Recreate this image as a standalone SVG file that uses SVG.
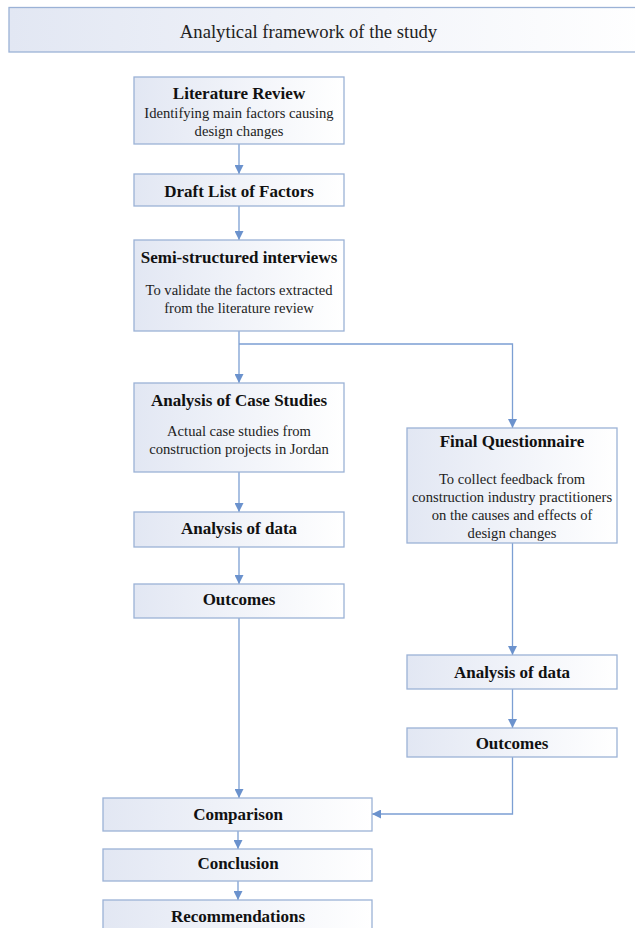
<svg xmlns="http://www.w3.org/2000/svg" width="635" height="928" viewBox="0 0 635 928">
<defs>
<linearGradient id="bg" x1="0" y1="0" x2="1" y2="0">
<stop offset="0" stop-color="#e2e7f3"/>
<stop offset="1" stop-color="#ffffff"/>
</linearGradient>
<marker id="ah" viewBox="0 0 10 10" refX="10" refY="5" markerWidth="9" markerHeight="9" markerUnits="userSpaceOnUse" orient="auto">
<path d="M0,0 L10,5 L0,10 z" fill="#6b92cd"/>
</marker>
<style>
.box{fill:url(#bg);stroke:#9bb2d6;stroke-width:1.3}
.h{font-family:"Liberation Serif","Times New Roman",serif;font-weight:bold;font-size:17px;fill:#111;text-anchor:middle}
.b{font-family:"Liberation Serif","Times New Roman",serif;font-size:14.6px;fill:#222;text-anchor:middle}
.t{font-family:"Liberation Serif","Times New Roman",serif;font-size:18.7px;fill:#222;text-anchor:middle}
.c{fill:none;stroke:#7c9fd3;stroke-width:1.3}
</style>
</defs>
<rect width="635" height="928" fill="#ffffff"/>
<g id="title">
<rect class="box" x="9" y="7.5" width="640" height="44.5"/>
<text class="t" x="308.5" y="37.5">Analytical framework of the study</text>
</g>
<g id="connectors">
<line class="c" x1="239" y1="144" x2="239" y2="174" marker-end="url(#ah)"/>
<line class="c" x1="239" y1="206" x2="239" y2="240" marker-end="url(#ah)"/>
<line class="c" x1="239" y1="331" x2="239" y2="383" marker-end="url(#ah)"/>
<polyline class="c" points="239,344 512.5,344 512.5,428" marker-end="url(#ah)"/>
<line class="c" x1="239" y1="472" x2="239" y2="512" marker-end="url(#ah)"/>
<line class="c" x1="239" y1="547" x2="239" y2="584" marker-end="url(#ah)"/>
<line class="c" x1="239" y1="618" x2="239" y2="798" marker-end="url(#ah)"/>
<line class="c" x1="512.5" y1="543" x2="512.5" y2="655" marker-end="url(#ah)"/>
<line class="c" x1="512.5" y1="689" x2="512.5" y2="728" marker-end="url(#ah)"/>
<polyline class="c" points="512.5,757 512.5,814 372,814" marker-end="url(#ah)"/>
<line class="c" x1="238" y1="831" x2="238" y2="849" marker-end="url(#ah)"/>
<line class="c" x1="238" y1="881" x2="238" y2="900" marker-end="url(#ah)"/>
</g>
<g id="literature-review">
<rect class="box" x="134" y="77" width="210" height="67"/>
<text class="h" x="239" y="99">Literature Review</text>
<text class="b" x="239" y="118">Identifying main factors causing</text>
<text class="b" x="239" y="136">design changes</text>
</g>
<g id="draft-list">
<rect class="box" x="134" y="174" width="210" height="32"/>
<text class="h" x="239" y="197">Draft List of Factors</text>
</g>
<g id="interviews">
<rect class="box" x="134" y="240" width="210" height="91"/>
<text class="h" x="239" y="263">Semi-structured interviews</text>
<text class="b" x="239" y="295">To validate the factors extracted</text>
<text class="b" x="239" y="313">from the literature review</text>
</g>
<g id="case-studies">
<rect class="box" x="134" y="383" width="210" height="89"/>
<text class="h" x="239" y="406">Analysis of Case Studies</text>
<text class="b" x="239" y="436">Actual case studies from</text>
<text class="b" x="239" y="454">construction projects in Jordan</text>
</g>
<g id="analysis-left">
<rect class="box" x="134" y="512" width="210" height="35"/>
<text class="h" x="239" y="534">Analysis of data</text>
</g>
<g id="outcomes-left">
<rect class="box" x="134" y="584" width="210" height="34"/>
<text class="h" x="239" y="605">Outcomes</text>
</g>
<g id="questionnaire">
<rect class="box" x="407" y="428" width="210" height="115"/>
<text class="h" x="512" y="447">Final Questionnaire</text>
<text class="b" x="512" y="484">To collect feedback from</text>
<text class="b" x="512" y="502">construction industry practitioners</text>
<text class="b" x="512" y="520">on the causes and effects of</text>
<text class="b" x="512" y="538">design changes</text>
</g>
<g id="analysis-right">
<rect class="box" x="407" y="655" width="210" height="34"/>
<text class="h" x="512" y="678">Analysis of data</text>
</g>
<g id="outcomes-right">
<rect class="box" x="407" y="728" width="210" height="29"/>
<text class="h" x="512" y="749">Outcomes</text>
</g>
<g id="comparison">
<rect class="box" x="103" y="798" width="269" height="33"/>
<text class="h" x="238" y="820">Comparison</text>
</g>
<g id="conclusion">
<rect class="box" x="103" y="849" width="269" height="32"/>
<text class="h" x="238" y="869">Conclusion</text>
</g>
<g id="recommendations">
<rect class="box" x="103" y="900" width="269" height="40"/>
<text class="h" x="238" y="922">Recommendations</text>
</g>
</svg>
